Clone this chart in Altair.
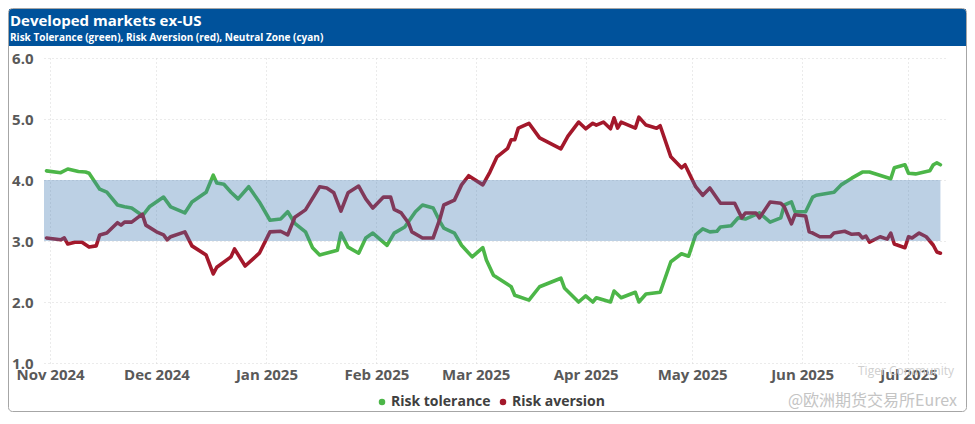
import altair as alt
import pandas as pd

TITLE = "Developed markets ex-US"
SUBTITLE = "Risk Tolerance (green), Risk Aversion (red), Neutral Zone (cyan)"
SERIES = ["Risk tolerance", "Risk aversion"]
COLORS = ["#4cb648", "#a3182b"]
WATERMARK_1 = "Tiger Community"
WATERMARK_2 = "@欧洲期货交易所Eurex"

green_dates = [
    "2024-10-31", "2024-11-04", "2024-11-06", "2024-11-09", "2024-11-11", "2024-11-12",
    "2024-11-15", "2024-11-17", "2024-11-20", "2024-11-22", "2024-11-24", "2024-11-26",
    "2024-11-27", "2024-11-29", "2024-12-03", "2024-12-05", "2024-12-09", "2024-12-11",
    "2024-12-15", "2024-12-17", "2024-12-18", "2024-12-20", "2024-12-22", "2024-12-24",
    "2024-12-27", "2024-12-30", "2025-01-02", "2025-01-05", "2025-01-07", "2025-01-09",
    "2025-01-12", "2025-01-14", "2025-01-16", "2025-01-21", "2025-01-22", "2025-01-24",
    "2025-01-27", "2025-01-29", "2025-01-31", "2025-02-04", "2025-02-06", "2025-02-09",
    "2025-02-12", "2025-02-14", "2025-02-17", "2025-02-19", "2025-02-20", "2025-02-23",
    "2025-02-25", "2025-02-28", "2025-03-03", "2025-03-04", "2025-03-06", "2025-03-11",
    "2025-03-12", "2025-03-16", "2025-03-19", "2025-03-25", "2025-03-26", "2025-03-30",
    "2025-04-01", "2025-04-03", "2025-04-04", "2025-04-08", "2025-04-09", "2025-04-11",
    "2025-04-15", "2025-04-16", "2025-04-18", "2025-04-22", "2025-04-25", "2025-04-28",
    "2025-04-30", "2025-05-02", "2025-05-04", "2025-05-06", "2025-05-08", "2025-05-09",
    "2025-05-12", "2025-05-14", "2025-05-16", "2025-05-20", "2025-05-23", "2025-05-26",
    "2025-05-27", "2025-05-29", "2025-05-30", "2025-06-02", "2025-06-04", "2025-06-05",
    "2025-06-10", "2025-06-12", "2025-06-15", "2025-06-18", "2025-06-20", "2025-06-26",
    "2025-06-27", "2025-06-30", "2025-07-01", "2025-07-03", "2025-07-07", "2025-07-08",
    "2025-07-09", "2025-07-10",
]
green_values = [
    4.15, 4.12, 4.18, 4.14, 4.13, 4.11,
    3.85, 3.80, 3.59, 3.56, 3.54, 3.46,
    3.41, 3.56, 3.72, 3.56, 3.46, 3.64,
    3.80, 4.08, 3.95, 3.93, 3.80, 3.69,
    3.89, 3.64, 3.34, 3.36, 3.48, 3.29,
    3.15, 2.89, 2.77, 2.85, 3.13, 2.90,
    2.80, 3.05, 3.13, 2.93, 3.13, 3.23,
    3.48, 3.59, 3.54, 3.31, 3.21, 3.13,
    2.93, 2.74, 2.89, 2.69, 2.44, 2.25,
    2.11, 2.03, 2.25, 2.39, 2.23, 2.00,
    2.10, 2.00, 2.07, 2.00, 2.18, 2.07,
    2.16, 2.00, 2.13, 2.16, 2.66, 2.79,
    2.75, 3.10, 3.20, 3.15, 3.16, 3.23,
    3.25, 3.38, 3.36, 3.46, 3.31, 3.38,
    3.59, 3.64, 3.48, 3.48, 3.72, 3.75,
    3.80, 3.92, 4.03, 4.13, 4.13, 4.02,
    4.20, 4.25, 4.11, 4.10, 4.15, 4.25,
    4.28, 4.25,
]

red_dates = [
    "2024-10-31", "2024-11-04", "2024-11-05", "2024-11-06", "2024-11-08", "2024-11-10",
    "2024-11-12", "2024-11-14", "2024-11-15", "2024-11-17", "2024-11-20", "2024-11-21",
    "2024-11-22", "2024-11-24", "2024-11-27", "2024-11-28", "2024-12-01", "2024-12-03",
    "2024-12-04", "2024-12-05", "2024-12-09", "2024-12-11", "2024-12-15", "2024-12-17",
    "2024-12-18", "2024-12-22", "2024-12-23", "2024-12-26", "2024-12-30", "2025-01-02",
    "2025-01-05", "2025-01-07", "2025-01-09", "2025-01-12", "2025-01-16", "2025-01-18",
    "2025-01-20", "2025-01-22", "2025-01-24", "2025-01-27", "2025-01-29", "2025-01-31",
    "2025-02-03", "2025-02-05", "2025-02-06", "2025-02-08", "2025-02-10", "2025-02-11",
    "2025-02-14", "2025-02-17", "2025-02-19", "2025-02-20", "2025-02-23", "2025-02-25",
    "2025-02-27", "2025-03-03", "2025-03-05", "2025-03-07", "2025-03-10", "2025-03-11",
    "2025-03-12", "2025-03-13", "2025-03-16", "2025-03-19", "2025-03-25", "2025-03-27",
    "2025-03-30", "2025-04-01", "2025-04-03", "2025-04-04", "2025-04-06", "2025-04-08",
    "2025-04-09", "2025-04-10", "2025-04-11", "2025-04-15", "2025-04-16", "2025-04-18",
    "2025-04-21", "2025-04-22", "2025-04-25", "2025-04-28", "2025-04-29", "2025-05-02",
    "2025-05-04", "2025-05-06", "2025-05-09", "2025-05-13", "2025-05-15", "2025-05-16",
    "2025-05-19", "2025-05-20", "2025-05-23", "2025-05-26", "2025-05-27", "2025-05-29",
    "2025-05-30", "2025-06-02", "2025-06-03", "2025-06-04", "2025-06-06", "2025-06-09",
    "2025-06-10", "2025-06-13", "2025-06-15", "2025-06-17", "2025-06-18", "2025-06-19",
    "2025-06-20", "2025-06-23", "2025-06-25", "2025-06-26", "2025-06-27", "2025-06-30",
    "2025-07-01", "2025-07-02", "2025-07-04", "2025-07-06", "2025-07-08", "2025-07-09",
    "2025-07-10",
]
red_values = [
    3.05, 3.02, 3.05, 2.95, 2.98, 2.98,
    2.90, 2.92, 3.10, 3.13, 3.30, 3.26,
    3.31, 3.31, 3.44, 3.26, 3.15, 3.10,
    3.02, 3.07, 3.15, 2.92, 2.77, 2.46,
    2.57, 2.74, 2.87, 2.59, 2.80, 3.15,
    3.16, 3.10, 3.39, 3.51, 3.89, 3.87,
    3.79, 3.49, 3.79, 3.90, 3.69, 3.54,
    3.72, 3.72, 3.52, 3.46, 3.30, 3.15,
    3.05, 3.05, 3.38, 3.59, 3.67, 3.92,
    4.07, 3.92, 4.13, 4.38, 4.52, 4.66,
    4.66, 4.85, 4.93, 4.69, 4.51, 4.72,
    4.95, 4.84, 4.93, 4.90, 4.95, 4.84,
    5.02, 4.85, 4.95, 4.85, 5.03, 4.90,
    4.85, 4.89, 4.38, 4.20, 4.25, 3.89,
    3.75, 3.87, 3.62, 3.62, 3.38, 3.46,
    3.46, 3.38, 3.64, 3.62, 3.56, 3.28,
    3.43, 3.41, 3.15, 3.13, 3.07, 3.07,
    3.13, 3.16, 3.11, 3.12, 3.05, 3.08,
    2.98, 3.07, 3.03, 3.13, 2.95, 2.89,
    3.07, 3.05, 3.13, 3.07, 2.93, 2.82,
    2.80,
]

band_start = ["2024-10-30T07:00:00"]
band_end = ["2025-07-10T00:00:00"]
band_low = [3.0]
band_high = [4.0]

month_ticks = ["2024-11-01", "2024-12-01", "2025-01-01", "2025-02-01", "2025-03-01",
               "2025-04-01", "2025-05-01", "2025-06-01", "2025-07-01"]
y_ticks = [1, 2, 3, 4, 5, 6]

lines_df = pd.concat([
    pd.DataFrame({"date": pd.to_datetime(green_dates), "value": green_values, "series": SERIES[0]}),
    pd.DataFrame({"date": pd.to_datetime(red_dates), "value": red_values, "series": SERIES[1]}),
])
band_df = pd.DataFrame({"x0": pd.to_datetime(band_start), "x1": pd.to_datetime(band_end),
                        "y0": band_low, "y1": band_high})
one_df = pd.DataFrame({"k": [0]})

FONT = "Open Sans"
LABEL_COLOR = "#595959"

x_enc = alt.X(
    "date:T",
    title=None,
    scale=alt.Scale(domain=[alt.DateTime(year=2024, month=10, date=30, hours=7),
                            alt.DateTime(year=2025, month=7, date=11, hours=7)]),
    axis=alt.Axis(
        values=[alt.DateTime(year=int(d[:4]), month=int(d[5:7]), date=1) for d in month_ticks],
        format="%b %Y", labelAngle=0, labelFlush=False, labelPadding=4,
        grid=True, gridColor="#d6d6d6", gridDash=[1, 3], gridWidth=1,
        domain=False, ticks=False,
        labelFont=FONT, labelFontSize=15, labelFontWeight="bold", labelColor=LABEL_COLOR,
    ),
)
y_enc = alt.Y(
    "value:Q",
    title=None,
    scale=alt.Scale(domain=[1, 6], nice=False, zero=False),
    axis=alt.Axis(
        values=y_ticks, format=".1f", labelPadding=11,
        grid=True, gridColor="#d6d6d6", gridDash=[1, 3], gridWidth=1,
        domain=False, ticks=False,
        labelFont=FONT, labelFontSize=15, labelFontWeight="bold", labelColor=LABEL_COLOR,
    ),
)
color_scale = alt.Scale(domain=SERIES, range=COLORS)

lines = alt.Chart(lines_df).mark_line(strokeWidth=3.6, strokeJoin="round", strokeCap="round").encode(
    x=x_enc, y=y_enc,
    color=alt.Color("series:N", scale=color_scale, legend=None),
    detail="series:N",
)

# invisible (clipped) circles that only serve to give the legend filled round symbols
legend_pts = alt.Chart(lines_df).mark_circle(opacity=1, size=40, clip=True).encode(
    x="date:T", y=alt.value(-400),
    color=alt.Color("series:N", scale=color_scale, sort=SERIES, legend=alt.Legend(
        title=None, orient="none", legendX=331, legendY=337, direction="horizontal",
        symbolType="circle", symbolSize=42, symbolStrokeWidth=0, symbolOpacity=1,
        labelFont=FONT, labelFontSize=14, labelFontWeight="bold", labelColor="#404040",
        columnPadding=5, labelOffset=2,
    )),
)

band = alt.Chart(band_df).mark_rect(color="#4079b2", opacity=0.35).encode(
    x="x0:T", x2="x1:T", y="y0:Q", y2="y1:Q",
)

title_bar = alt.Chart(one_df).mark_rect(color="#00529b").encode(
    x=alt.value(-35), x2=alt.value(922), y=alt.value(-49), y2=alt.value(-12),
)
border = alt.Chart(one_df).mark_rect(fill="white", fillOpacity=0, stroke="#a6a6a6",
                                     strokeWidth=1, cornerRadius=4).encode(
    x=alt.value(-35.5), x2=alt.value(922.5), y=alt.value(-49.5), y2=alt.value(353.5),
)
title_txt = alt.Chart(one_df).mark_text(align="left", baseline="alphabetic", color="white",
                                        font=FONT, fontSize=15, fontWeight="bold").encode(
    x=alt.value(-34), y=alt.value(-32), text=alt.value(TITLE),
)
subtitle_txt = alt.Chart(one_df).mark_text(align="left", baseline="alphabetic", color="white",
                                           font=FONT, fontSize=10, fontWeight="bold").encode(
    x=alt.value(-34), y=alt.value(-17), text=alt.value(SUBTITLE),
)
wm1 = alt.Chart(one_df).mark_text(align="left", baseline="middle", color="#cfcfcf",
                                  font=FONT, fontSize=12).encode(
    x=alt.value(814), y=alt.value(313), text=alt.value(WATERMARK_1),
)
wm2 = alt.Chart(one_df).mark_text(align="right", baseline="middle", color="#c4c4c4",
                                  font="Noto Sans CJK SC", fontSize=16).encode(
    x=alt.value(913), y=alt.value(343), text=alt.value(WATERMARK_2),
)

chart = alt.layer(
    lines, legend_pts, band, title_bar, title_txt, subtitle_txt, wm1, wm2, border
).resolve_legend(color="independent").properties(
    width=901, height=305,
    padding={"left": 36, "top": 50, "right": 22, "bottom": 49},
    autosize=alt.AutoSizeParams(type="none"),
    background="white",
).configure_view(stroke=None)

chart.save("out.html", embed_options={"renderer": "svg", "actions": False})
